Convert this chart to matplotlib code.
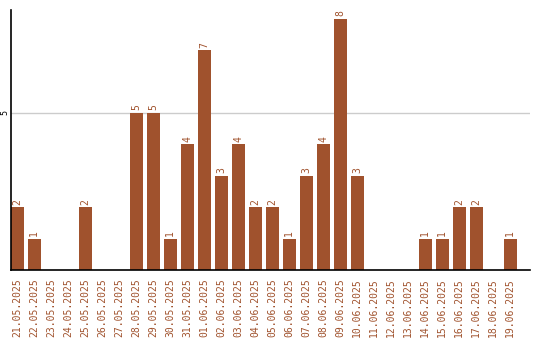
import matplotlib
matplotlib.use("Agg")
import matplotlib.pyplot as plt

dates = ["21.05.2025", "22.05.2025", "23.05.2025", "24.05.2025", "25.05.2025",
         "26.05.2025", "27.05.2025", "28.05.2025", "29.05.2025", "30.05.2025",
         "31.05.2025", "01.06.2025", "02.06.2025", "03.06.2025", "04.06.2025",
         "05.06.2025", "06.06.2025", "07.06.2025", "08.06.2025", "09.06.2025",
         "10.06.2025", "11.06.2025", "12.06.2025", "13.06.2025", "14.06.2025",
         "15.06.2025", "16.06.2025", "17.06.2025", "18.06.2025", "19.06.2025"]
counts = [2, 1, 0, 0, 2, 0, 0, 5, 5, 1,
          4, 7, 3, 4, 2, 2, 1, 3, 4, 8,
          3, 0, 0, 0, 1, 1, 2, 2, 0, 1]

brown = "#A0522D"
mono = "DejaVu Sans Mono"

fig = plt.figure(figsize=(5.4, 3.4), dpi=100)
ax = fig.add_axes([10.5 / 540, 70 / 340, 519.5 / 540, 260 / 340])

x = list(range(len(dates)))
ax.bar(x, counts, width=0.78, color=brown, zorder=2)

for i, v in zip(x, counts):
    if v > 0:
        ax.text(i, v + 0.08, str(v), rotation=90, ha="center", va="bottom",
                color=brown, fontsize=7, family=mono)

ax.set_xlim(-0.39, 30.16)
ax.set_ylim(0, 8.28)
ax.set_yticks([5])
ax.set_yticklabels(["5"], rotation=90, va="center", ha="right", fontsize=6, family=mono)
ax.yaxis.grid(True, color="#cccccc", linewidth=1, zorder=0)
ax.tick_params(axis="y", length=0, pad=1)

ax.set_xticks(x)
ax.set_xticklabels(dates, rotation=90, color=brown, fontsize=7, family=mono)
ax.tick_params(axis="x", length=0, pad=6)

for s in ["top", "right"]:
    ax.spines[s].set_visible(False)
ax.spines["left"].set_linewidth(1.2)
ax.spines["bottom"].set_linewidth(1.2)

fig.savefig("out.png", dpi=100, facecolor="white")
